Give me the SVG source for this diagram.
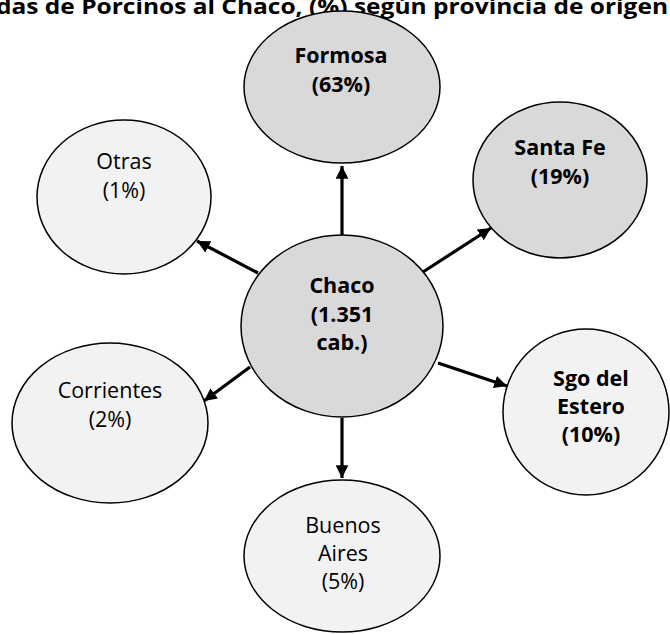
<svg xmlns="http://www.w3.org/2000/svg" width="670" height="634" viewBox="0 0 670 634">
<style>
.n{stroke:#000;stroke-width:1.5}
.d{fill:#d9d9d9}
.l{fill:#f2f2f2}
text{font-family:"Open Sans","Noto Sans",sans-serif;font-size:21.5px;text-anchor:middle;fill:#000}
.b{font-weight:bold}
.t{font-weight:bold;font-size:22px;text-anchor:start}
.c line{stroke:#000;stroke-width:3.2}
</style>
<defs>
<marker id="ah" markerWidth="4" markerHeight="4" refX="4" refY="2" orient="auto" markerUnits="strokeWidth">
<path d="M0,0 L4,2 L0,4 Z" fill="#000"/>
</marker>
</defs>
<rect width="670" height="634" fill="#fff"/>
<text class="t" x="-4" y="14" textLength="672" lengthAdjust="spacingAndGlyphs">das de Porcinos al Chaco, (%) según provincia de origen</text>
<g class="c" id="connectors">
<line x1="342" y1="236" x2="342" y2="166" marker-end="url(#ah)"/>
<line x1="258" y1="273" x2="197" y2="241" marker-end="url(#ah)"/>
<line x1="423" y1="272" x2="491" y2="228" marker-end="url(#ah)"/>
<line x1="438" y1="363" x2="507" y2="386" marker-end="url(#ah)"/>
<line x1="250" y1="367" x2="204" y2="401" marker-end="url(#ah)"/>
<line x1="342" y1="418" x2="342" y2="478" marker-end="url(#ah)"/>
</g>
<g id="formosa">
<ellipse class="n d" cx="342" cy="87" rx="98" ry="76"/>
<text class="b" x="341" y="63">Formosa</text>
<text class="b" x="341" y="92">(63%)</text>
</g>
<g id="santafe">
<ellipse class="n d" cx="560" cy="180" rx="87" ry="78"/>
<text class="b" x="560" y="155">Santa Fe</text>
<text class="b" x="560" y="184">(19%)</text>
</g>
<g id="otras">
<ellipse class="n l" cx="124" cy="197" rx="87" ry="77"/>
<text x="124" y="169">Otras</text>
<text x="124" y="198">(1%)</text>
</g>
<g id="chaco">
<ellipse class="n d" cx="342" cy="326" rx="101" ry="91"/>
<text class="b" x="342" y="293">Chaco</text>
<text class="b" x="342" y="322">(1.351</text>
<text class="b" x="342" y="350">cab.)</text>
</g>
<g id="sgo">
<ellipse class="n l" cx="586" cy="412" rx="83" ry="83"/>
<text class="b" x="591" y="386">Sgo del</text>
<text class="b" x="591" y="414">Estero</text>
<text class="b" x="591" y="442">(10%)</text>
</g>
<g id="corrientes">
<ellipse class="n l" cx="110" cy="423" rx="98" ry="80"/>
<text x="110" y="398">Corrientes</text>
<text x="110" y="427">(2%)</text>
</g>
<g id="buenosaires">
<ellipse class="n l" cx="342" cy="556" rx="98" ry="76"/>
<text x="343" y="533">Buenos</text>
<text x="343" y="561">Aires</text>
<text x="343" y="589">(5%)</text>
</g>
</svg>
